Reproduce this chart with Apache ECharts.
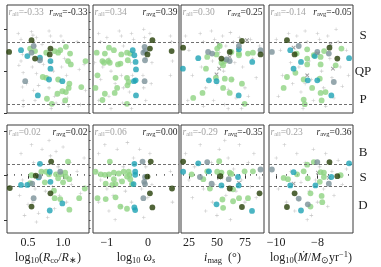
<!DOCTYPE html>
<html><head><meta charset="utf-8">
<script src="https://cdn.jsdelivr.net/npm/echarts@6/dist/echarts.min.js"></script>
<style>html,body{margin:0;padding:0;background:#fff}#c{width:381px;height:267px}</style>
</head><body><div id="c"></div>
<script>
// ---------------- DATA ----------------
// top row: y = Q metric (S / QP / P), bottom row: y = M metric (B / S / D, inverted)
const T1_plus=[[0.36,0.95],[0.40,0.88],[0.42,0.70],[0.40,0.62],[0.37,0.57],[0.43,0.48],[0.42,0.31],[0.43,0.15],[0.43,0.08],[0.55,0.97],[0.57,0.93],[0.58,0.85],[0.62,0.90],[0.60,0.80],[0.56,0.55],[0.62,0.47],[0.58,0.27],[0.65,0.33],[0.60,0.15],[0.80,0.98],[0.82,0.92],[0.85,0.85],[0.84,0.60],[0.86,0.50],[0.80,0.30],[0.88,0.20],[0.83,0.05],[0.90,0.12],[0.97,0.92],[1.00,0.86],[1.02,0.65],[0.98,0.55],[1.05,0.45],[1.06,0.18],[1.08,0.08],[1.00,0.12],[1.20,0.85],[1.23,0.52],[1.30,0.58],[1.32,0.27],[1.25,0.10],[0.70,0.82],[0.72,0.58],[0.48,0.35],[0.95,0.38]];
const T1_green=[[0.53,0.77],[0.60,0.74],[0.76,0.72],[0.88,0.74],[0.93,0.72],[0.96,0.75],[1.04,0.79],[1.10,0.71],[1.07,0.62],[1.11,0.58],[1.32,0.62],[0.71,0.43],[0.76,0.42],[0.93,0.40],[1.09,0.35],[1.08,0.30],[1.26,0.31],[0.92,0.23],[0.99,0.26],[1.04,0.25],[0.77,0.17],[1.03,0.15],[0.84,0.11]];
const T1_teal=[[0.40,0.75],[0.49,0.68],[0.67,0.66],[0.82,0.62],[0.82,0.53],[0.80,0.40],[0.99,0.38],[0.64,0.21]];
const T1_slate=[[0.58,0.80],[0.55,0.72],[0.67,0.63],[0.46,0.38]];
const T1_dark=[[0.23,0.73],[0.55,0.87],[0.60,0.65],[0.82,0.77],[0.81,0.70]];

const T2_plus=[[-1.2,0.95],[-1.15,0.85],[-1.1,0.55],[-1.15,0.40],[-1.2,0.15],[-1.0,0.90],[-0.95,0.65],[-0.9,0.50],[-0.95,0.20],[-0.9,0.05],[-0.7,0.98],[-0.65,0.92],[-0.6,0.80],[-0.65,0.45],[-0.6,0.30],[-0.62,0.12],[-0.4,0.95],[-0.35,0.88],[-0.42,0.60],[-0.38,0.45],[-0.45,0.25],[-0.4,0.05],[-0.1,1.00],[-0.08,0.90],[-0.05,0.65],[-0.12,0.45],[-0.1,0.30],[-0.05,0.15],[0.05,0.95],[0.1,0.60],[0.08,0.35],[0.55,0.92],[0.58,0.85],[0.6,0.62],[0.55,0.45],[-1.3,0.60],[-0.8,0.35]];
const T2_green=[[-1.25,0.72],[-1.05,0.71],[-0.95,0.78],[-0.83,0.75],[-1.11,0.62],[-0.97,0.62],[-1.23,0.45],[-0.79,0.42],[-0.75,0.30],[-0.51,0.42],[-0.47,0.37],[-0.65,0.70],[-0.51,0.72],[-0.49,0.63],[-0.43,0.71],[-0.67,0.59],[-1.28,0.30],[-1.05,0.23],[-1.11,0.155],[-0.81,0.24],[-0.51,0.11],[-0.50,0.33],[-1.07,0.60],[-0.93,0.60],[-0.73,0.58]];
const T2_teal=[[-0.37,0.75],[-0.33,0.69],[-0.30,0.61],[-0.29,0.52],[-0.30,0.39],[-0.34,0.38],[-0.29,0.21]];
const T2_slate=[[-0.08,0.79],[-0.11,0.72],[-0.07,0.74],[-0.07,0.63],[-0.08,0.38]];
const T2_dark=[[0.11,0.87],[0.05,0.77],[-0.01,0.70],[0.58,0.74]];

const T3_plus=[[22,0.92],[25,0.75],[28,0.45],[24,0.15],[35,0.95],[38,0.85],[36,0.55],[40,0.30],[38,0.08],[45,0.98],[48,0.88],[46,0.62],[50,0.35],[47,0.15],[55,0.92],[58,0.80],[56,0.50],[60,0.28],[57,0.10],[62,0.96],[65,0.85],[66,0.60],[64,0.40],[67,0.18],[70,0.90],[73,0.55],[75,0.30],[72,0.05],[80,0.88],[82,0.65],[85,0.42],[78,0.20],[88,0.80],[60,0.05],[52,0.72]];
const T3_cross=[[51.6,0.82],[61.4,0.67],[52,0.53],[49.6,0.46],[76.8,0.87],[68.8,0.75]];
const T3_green=[[50.2,0.77],[52.5,0.80],[41.3,0.67],[49.6,0.70],[54.0,0.60],[57.0,0.62],[69.6,0.71],[77.7,0.71],[82.1,0.72],[62.9,0.73],[55.5,0.57],[57.0,0.41],[62.9,0.40],[55.5,0.30],[61.4,0.24],[37.1,0.24],[28.8,0.18],[74.7,0.11],[72.3,0.35],[69.6,0.69],[49.0,0.42],[40.2,0.53]];
const T3_teal=[[33.3,0.655],[42.8,0.39],[49.6,0.38],[69.6,0.76],[81.5,0.61],[69.4,0.21],[19.6,0.53]];
const T3_slate=[[42.1,0.73],[45.7,0.71],[58.5,0.64],[61.4,0.62],[69.6,0.80],[88.9,0.75]];
const T3_dark=[[72.3,0.86],[61.4,0.73],[54,0.65],[88.9,0.70],[19.8,0.78]];

const T4_plus=[[-10.0,0.88],[-9.8,0.75],[-9.7,0.45],[-9.9,0.20],[-9.4,0.95],[-9.3,0.60],[-9.2,0.35],[-9.0,0.92],[-8.9,0.55],[-8.8,0.25],[-8.7,0.05],[-8.6,0.98],[-8.5,0.85],[-8.4,0.62],[-8.3,0.40],[-8.2,0.15],[-8.0,0.95],[-7.9,0.88],[-7.8,0.50],[-7.7,0.30],[-7.6,0.08],[-7.5,0.92],[-7.4,0.65],[-7.3,0.42],[-7.2,0.18],[-7.0,0.85],[-6.9,0.55],[-6.8,0.32],[-6.6,0.75],[-6.5,0.45],[-8.1,0.72],[-8.6,0.35],[-7.1,1.00]];
const T4_cross=[[-9.16,0.78],[-8.50,0.45],[-7.37,0.82],[-7.25,0.53],[-7.98,0.71]];
const T4_green=[[-9.01,0.71],[-8.50,0.76],[-8.50,0.65],[-8.18,0.69],[-7.85,0.67],[-7.68,0.74],[-6.84,0.77],[-9.48,0.43],[-8.67,0.40],[-8.50,0.58],[-7.85,0.58],[-7.89,0.41],[-9.64,0.30],[-8.26,0.30],[-7.85,0.24],[-7.61,0.25],[-8.67,0.16],[-7.80,0.15],[-8.62,0.105],[-7.12,0.57],[-9.07,0.48]];
const T4_teal=[[-9.32,0.75],[-8.80,0.61],[-9.16,0.53],[-8.47,0.39],[-8.01,0.39],[-6.47,0.655],[-7.33,0.21],[-8.13,0.68]];
const T4_slate=[[-10.21,0.73],[-8.91,0.80],[-8.01,0.73],[-7.45,0.71],[-7.21,0.37]];
const T4_dark=[[-9.48,0.87],[-9.11,0.70],[-7.42,0.78],[-7.04,0.65]];

const B1_plus=[[0.40,-0.5],[0.42,0.1],[0.38,0.45],[0.45,0.9],[0.55,-0.7],[0.58,-0.3],[0.60,0.3],[0.57,0.6],[0.62,1.05],[0.70,-0.6],[0.72,-0.1],[0.75,0.35],[0.80,-0.8],[0.82,-0.45],[0.85,0.25],[0.88,0.75],[0.90,-0.55],[0.93,-0.2],[0.95,0.45],[1.00,-0.65],[1.02,0.05],[1.05,0.6],[1.10,-0.3],[1.12,0.2],[1.20,-0.1],[1.25,0.4],[1.30,-0.4],[0.65,0.85],[0.50,0.65],[0.78,0.95]];
const B1_green=[[0.55,-0.01],[0.53,0.17],[0.74,0.15],[0.76,-0.09],[0.80,-0.03],[0.90,-0.03],[0.97,-0.03],[0.93,0.06],[1.04,0.02],[1.07,-0.32],[1.09,0.08],[1.31,0.29],[1.23,0.51],[1.09,0.77],[0.96,0.53],[0.88,0.51],[0.69,-0.09],[1.03,-0.07],[1.00,0.15],[0.87,0.34]];
const B1_teal=[[0.67,-0.27],[0.40,0.21],[0.49,0.21],[0.65,0.04],[0.81,-0.09],[0.82,0.14],[0.99,0.63],[0.81,0.79]];
const B1_slate=[[0.96,-0.09],[0.56,0.18],[0.66,0.02],[0.58,0.51]];
const B1_dark=[[0.24,0.28],[0.83,-0.32],[0.61,0.00],[0.82,0.40],[0.55,0.70]];

const B2_plus=[[-1.2,-0.5],[-1.15,0.1],[-1.2,0.6],[-1.05,-0.7],[-1.0,0.3],[-0.95,0.8],[-0.9,-0.3],[-0.85,0.45],[-0.75,-0.6],[-0.7,0.1],[-0.65,0.7],[-0.6,-0.2],[-0.55,0.35],[-0.5,-0.75],[-0.45,0.05],[-0.4,0.6],[-0.35,-0.4],[-0.2,-0.6],[-0.15,0.3],[-0.1,0.95],[-0.05,-0.2],[0.0,0.5],[0.05,-0.5],[0.1,0.2],[0.55,-0.1],[0.6,0.6],[-0.8,1.0],[-1.25,-0.1]];
const B2_green=[[-1.28,-0.09],[-1.15,-0.03],[-1.05,-0.02],[-0.95,-0.03],[-0.83,-0.07],[-0.71,-0.05],[-0.59,-0.09],[-0.47,-0.09],[-0.45,-0.02],[-0.51,0.02],[-0.43,0.08],[-0.39,0.19],[-0.79,0.19],[-0.87,0.21],[-1.03,0.18],[-1.23,0.51],[-1.03,0.53],[-0.79,0.49],[-0.67,0.70],[-0.51,0.75],[-0.93,-0.32],[-0.83,0.08],[-0.63,0.13]];
const B2_teal=[[-0.33,-0.27],[-0.31,-0.09],[-0.31,-0.02],[-0.35,0.19],[-0.33,0.72],[-0.31,0.78]];
const B2_slate=[[-0.13,-0.32],[-0.07,0.03],[-0.09,0.14],[-0.07,0.19],[-0.11,0.51]];
const B2_dark=[[0.07,-0.32],[-0.01,0.02],[0.05,0.40],[0.11,0.72],[0.59,0.29]];

const B3_plus=[[22,-0.5],[25,0.1],[28,0.5],[35,-0.7],[38,0.3],[40,0.8],[45,-0.3],[48,0.2],[50,0.9],[52,-0.6],[55,0.05],[58,0.45],[60,-0.4],[62,1.0],[65,-0.15],[67,0.35],[70,-0.7],[72,0.1],[75,0.6],[78,-0.3],[80,0.25],[83,-0.5],[85,0.5],[88,0.05],[57,-0.8],[46,0.6],[30,-0.2]];
const B3_cross=[[69.7,0.16],[52.0,0.05]];
const B3_green=[[27.4,-0.03],[41.3,-0.10],[52.0,-0.33],[50.2,-0.09],[54.0,-0.07],[61.4,-0.07],[62.9,-0.04],[74.7,-0.10],[82.1,-0.10],[64.4,0.31],[69.7,0.51],[77.7,0.51],[64.4,0.58],[55.5,0.73],[54.9,0.54],[43.7,0.29],[37.8,0.08]];
const B3_teal=[[33.3,-0.28],[42.8,-0.10],[54.0,0.22],[68.8,0.03],[69.4,0.22],[81.3,0.80],[49.6,0.65],[19.8,-0.09]];
const B3_slate=[[41.3,-0.31],[34.8,0.03],[45.2,0.18],[60.5,0.08],[88.9,-0.14]];
const B3_dark=[[53.1,0.01],[61.4,0.29],[72.3,0.71],[88.0,0.40],[19.8,-0.32]];

const B4_plus=[[-10.0,-0.4],[-9.9,0.3],[-9.6,-0.7],[-9.5,0.6],[-9.3,-0.1],[-9.1,0.8],[-9.0,-0.5],[-8.8,0.15],[-8.6,-0.3],[-8.5,1.0],[-8.4,0.35],[-8.2,-0.6],[-8.1,0.1],[-8.0,0.6],[-7.9,-0.2],[-7.7,0.3],[-7.6,-0.5],[-7.5,0.7],[-7.3,-0.1],[-7.2,0.45],[-7.0,-0.35],[-6.8,0.2],[-6.6,-0.15],[-8.3,0.9],[-8.9,0.55]];
const B4_cross=[[-9.16,0.18],[-7.98,-0.07],[-7.45,0.05]];
const B4_green=[[-9.64,0.05],[-9.43,0.08],[-8.99,-0.03],[-8.67,-0.10],[-8.50,-0.25],[-8.18,-0.31],[-7.85,-0.08],[-7.69,0.03],[-7.89,0.14],[-6.88,-0.01],[-8.47,0.06],[-7.80,0.46],[-7.77,0.60],[-8.34,0.70],[-8.34,0.40],[-7.69,-0.07]];
const B4_teal=[[-6.47,-0.28],[-9.16,-0.08],[-9.32,0.22],[-7.33,0.03],[-8.80,0.79],[-8.10,0.22]];
const B4_slate=[[-10.21,-0.14],[-8.01,-0.31],[-7.45,0.18],[-8.47,0.65],[-8.91,0.52]];
const B4_dark=[[-7.42,-0.31],[-7.04,0.01],[-9.11,0.40],[-9.48,0.71]];

const rAll=['-0.33','0.34','0.30','-0.14','0.02','0.06','-0.29','0.23'];
const rAvg=['-0.33','0.39','0.25','-0.05','0.02','0.00','-0.35','0.36'];
const topClasses=['S','QP','P'];
const botClasses=['B','S','D'];
const topThresholds=[0.11,0.85];
const botThresholds=[-0.25,0.25];
const xMin=[0.2,-1.34,17.9,-10.35];
const xMax=[1.37,0.76,92,-6.28];
const xMajor=[[0.5,1.0],[-1,0],[25,50,75],[-10,-8]];
const xMinorStep=[0.1,0.2,5,0.5];
const yTopRange=[0,1.29], yTopMajor=[0,0.5,1.0], yTopMinorStep=0.1;
const yBotRange=[-1.15,1.30], yBotMajor=[-1,0,1], yBotMinorStep=0.2;

// ---------------- LAYOUT / STYLE ----------------
const FONT='Liberation Serif';
const colLeft=[7,93,181,269], colWidth=[82,86,83,84];
const rowTop=[5,125], rowHeight=[108,108];
const C_GREEN='#8fd382', C_TEAL='#1ea2b4', C_SLATE='#7b9198', C_DARK='#263f08';
const PLUS='path://M3.4,0h1.2v3.4h3.4v1.2h-3.4v3.4h-1.2v-3.4h-3.4v-1.2h3.4z';
const CROSS='path://M3.2,0h1.6v3.2h3.2v1.6h-3.2v3.2h-1.6v-3.2h-3.2v-1.6h3.2z';

const panels=[
 {plus:T1_plus,cross:null,green:T1_green,teal:T1_teal,slate:T1_slate,dark:T1_dark},
 {plus:T2_plus,cross:null,green:T2_green,teal:T2_teal,slate:T2_slate,dark:T2_dark},
 {plus:T3_plus,cross:T3_cross,green:T3_green,teal:T3_teal,slate:T3_slate,dark:T3_dark},
 {plus:T4_plus,cross:T4_cross,green:T4_green,teal:T4_teal,slate:T4_slate,dark:T4_dark},
 {plus:B1_plus,cross:null,green:B1_green,teal:B1_teal,slate:B1_slate,dark:B1_dark},
 {plus:B2_plus,cross:null,green:B2_green,teal:B2_teal,slate:B2_slate,dark:B2_dark},
 {plus:B3_plus,cross:B3_cross,green:B3_green,teal:B3_teal,slate:B3_slate,dark:B3_dark},
 {plus:B4_plus,cross:B4_cross,green:B4_green,teal:B4_teal,slate:B4_slate,dark:B4_dark}
];

const xNames=[
 '{n|log}{s|10}{n|(}{i|R}{s|co}{n|/}{i|R}{s|∗}{n|)}',
 '{n|log}{s|10}{i| ω}{si|s}',
 '{i|i}{s|mag}{n|  (°)}',
 '{n|log}{s|10}{n|(}{i|Ṁ}{n|/}{i|M}{s|⊙}{n|yr}{p|−1}{n|)}'
];
const nameRich={
 n:{fontFamily:FONT,fontSize:12,lineHeight:15,color:'#222'},
 i:{fontFamily:FONT,fontSize:12,lineHeight:15,fontStyle:'italic',color:'#222'},
 s:{fontFamily:FONT,fontSize:8.5,lineHeight:10,verticalAlign:'bottom',color:'#222'},
 si:{fontFamily:FONT,fontSize:8.5,lineHeight:10,verticalAlign:'bottom',fontStyle:'italic',color:'#222'},
 p:{fontFamily:FONT,fontSize:8.5,lineHeight:10,verticalAlign:'top',color:'#222'}
};

function steps(min,max,step){
  const out=[]; let v=Math.ceil(min/step-1e-9)*step;
  for(;v<=max+1e-9;v+=step) out.push(Math.round(v*1000)/1000);
  return out;
}
function fmtX(c,v){
  if(c===0) return v.toFixed(1);
  if(v<0) return '−'+Math.abs(v);
  return String(v);
}

const grids=[],xAxes=[],yAxes=[],series=[],graphics=[];
for(let r=0;r<2;r++){
  for(let c=0;c<4;c++){
    const gi=r*4+c;
    grids.push({left:colLeft[c],top:rowTop[r],width:colWidth[c],height:rowHeight[r],
      show:true,borderColor:'#3a3a3a',borderWidth:1,backgroundColor:'transparent'});
    const showX=(r===1);
    xAxes.push({gridIndex:gi,type:'value',min:xMin[c],max:xMax[c],
      axisLine:{show:false},splitLine:{show:false},
      axisTick:{show:showX,customValues:xMajor[c],length:3,lineStyle:{color:'#333',width:1}},
      axisLabel:{show:showX,customValues:xMajor[c],margin:4,fontFamily:FONT,fontSize:12,color:'#222',
        formatter:(v)=>fmtX(c,v)},
      name:showX?xNames[c]:'',nameLocation:'middle',nameGap:17,
      nameTextStyle:{rich:nameRich}});
    xAxes.push({gridIndex:gi,type:'value',min:xMin[c],max:xMax[c],
      axisLine:{show:false},splitLine:{show:false},axisLabel:{show:false},
      axisTick:{show:showX,customValues:steps(xMin[c],xMax[c],xMinorStep[c]),length:1.6,lineStyle:{color:'#333',width:0.8}}});
    const rng=r===0?yTopRange:yBotRange;
    const maj=r===0?yTopMajor:yBotMajor;
    const mstep=r===0?yTopMinorStep:yBotMinorStep;
    const showY=(c===0);
    yAxes.push({gridIndex:gi,type:'value',min:rng[0],max:rng[1],inverse:r===1,
      axisLine:{show:false},splitLine:{show:false},axisLabel:{show:false},
      axisTick:{show:showY,customValues:maj,length:3,lineStyle:{color:'#333',width:1}}});
    yAxes.push({gridIndex:gi,type:'value',min:rng[0],max:rng[1],inverse:r===1,
      axisLine:{show:false},splitLine:{show:false},axisLabel:{show:false},
      axisTick:{show:showY,customValues:steps(rng[0],rng[1],mstep),length:1.6,lineStyle:{color:'#333',width:0.8}}});

    const P=panels[gi];
    const base={type:'scatter',xAxisIndex:2*gi,yAxisIndex:2*gi,silent:true,animation:false};
    series.push(Object.assign({},base,{data:P.plus,symbol:PLUS,symbolSize:3.6,
      itemStyle:{color:'#b4b4b4'},z:2,
      markLine:{silent:true,symbol:'none',label:{show:false},animation:false,
        lineStyle:{type:[3,2],color:'#707070',width:1},
        data:(r===0?topThresholds:botThresholds).map(v=>({yAxis:v}))}}));
    if(P.cross) series.push(Object.assign({},base,{data:P.cross,symbol:CROSS,symbolRotate:45,symbolSize:5,
      itemStyle:{color:'#8a8a8a'},z:3}));
    [[P.green,C_GREEN],[P.teal,C_TEAL],[P.slate,C_SLATE],[P.dark,C_DARK]].forEach(([d,col],k)=>{
      series.push(Object.assign({},base,{data:d,symbol:'circle',symbolSize:5.8,
        itemStyle:{color:col},z:4+k}));
    });

    const annRich={
      r:{fontFamily:FONT,fontSize:9.5,lineHeight:11,fontStyle:'italic'},
      s:{fontFamily:FONT,fontSize:6.5,lineHeight:6,verticalAlign:'bottom'},
      v:{fontFamily:FONT,fontSize:9.5,lineHeight:11}
    };
    const richFill=(col)=>{const o={};for(const k in annRich){o[k]=Object.assign({fill:col},annRich[k]);}return o;};
    graphics.push({type:'text',x:colLeft[c]+1.5,y:rowTop[r]+7.5,silent:true,z:10,
      style:{text:'{r|r}{s|all}{v|='+rAll[gi]+'}',rich:richFill('#a3a3a3'),align:'left',verticalAlign:'middle'}});
    graphics.push({type:'text',x:colLeft[c]+colWidth[c]-1.5,y:rowTop[r]+7.5,silent:true,z:10,
      style:{text:'{r|r}{s|avg}{v|='+rAvg[gi]+'}',rich:richFill('#2a2a2a'),align:'right',verticalAlign:'middle'}});
  }
}
const classY=[[36,72,100],[153,178,206]];
[topClasses,botClasses].forEach((arr,r)=>arr.forEach((t,k)=>{
  graphics.push({type:'text',x:363,y:classY[r][k],silent:true,
    style:{text:t,fill:'#222',font:'13px "Liberation Serif"',align:'center',verticalAlign:'middle'}});
}));

const chart=echarts.init(document.getElementById('c'),null,{renderer:'canvas'});
chart.setOption({animation:false,backgroundColor:'#fff',grid:grids,xAxis:xAxes,yAxis:yAxes,series:series,graphic:graphics});
</script></body></html>
